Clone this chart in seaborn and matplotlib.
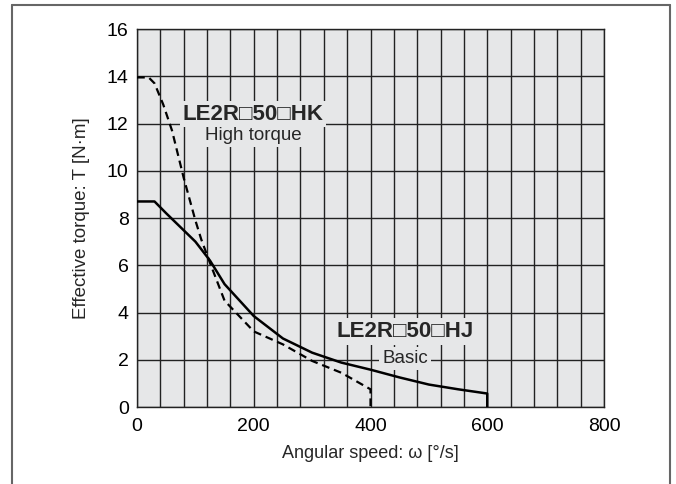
import numpy as np
import pandas as pd
import matplotlib.pyplot as plt
import seaborn as sns
from matplotlib.lines import Line2D

# Basic (HJ) curve
speed_basic = [0, 30, 50, 100, 125, 150, 200, 250, 300, 350, 400, 450, 500, 550, 600, 600]
torque_basic = [8.7, 8.7, 8.2, 7.0, 6.2, 5.2, 3.85, 2.9, 2.3, 1.88, 1.58, 1.25, 0.95, 0.75, 0.57, 0]

# High torque (HK) curve
speed_high = [0, 20, 30, 45, 60, 80, 100, 110, 125, 150, 200, 250, 300, 350, 400, 400]
torque_high = [13.95, 13.95, 13.7, 12.8, 11.7, 9.7, 7.9, 7.1, 6.1, 4.5, 3.2, 2.65, 1.95, 1.45, 0.75, 0]

x_ticks = [0, 200, 400, 600, 800]
y_ticks = [0, 2, 4, 6, 8, 10, 12, 14, 16]

sns.set_style("ticks")
plt.rcParams["font.family"] = ["Liberation Sans", "DejaVu Sans"]

face = "#e6e7e8"
fig = plt.figure(figsize=(6.76, 4.84), dpi=100)
ax = fig.add_axes([137 / 676, 1 - 407 / 484, (604 - 137) / 676, (407 - 29) / 484])
ax.set_facecolor(face)

df_basic = pd.DataFrame({"speed": speed_basic, "torque": torque_basic})
df_high = pd.DataFrame({"speed": speed_high, "torque": torque_high})

sns.lineplot(data=df_basic, x="speed", y="torque", ax=ax, sort=False,
             color="black", linewidth=1.8, estimator=None, zorder=5)
sns.lineplot(data=df_high, x="speed", y="torque", ax=ax, sort=False,
             color="black", linewidth=1.6, estimator=None, zorder=5,
             dashes=False, linestyle=(0, (3.5, 2.2)))

ax.set_xlim(0, 800)
ax.set_ylim(0, 16)
ax.set_xticks(x_ticks)
ax.set_xticks(np.arange(0, 801, 40), minor=True)
ax.set_yticks(y_ticks)
ax.tick_params(which="both", length=0, labelsize=14, colors="black")
ax.tick_params(axis="x", pad=8)
ax.tick_params(axis="y", pad=6)
ax.grid(which="both", axis="x", color="#222222", linewidth=1.0)
ax.grid(which="major", axis="y", color="#222222", linewidth=1.0)
ax.set_axisbelow(True)
for s in ax.spines.values():
    s.set_color("#222222")
    s.set_linewidth(1.0)

ax.set_xlabel("Angular speed: ω [°/s]", fontsize=13, labelpad=7)
ax.set_ylabel("Effective torque: T [N·m]", fontsize=13.5, labelpad=12)

box = dict(facecolor=face, edgecolor="none", pad=2)
ax.text(199, 12.4, "LE2R\u25a150\u25a1HK", fontsize=16, fontweight="bold",
        ha="center", va="center", bbox=box, zorder=6)
ax.text(199, 11.5, "High torque", fontsize=13.5, ha="center", va="center",
        bbox=box, zorder=6)
ax.text(459, 3.2, "LE2R\u25a150\u25a1HJ", fontsize=16, fontweight="bold",
        ha="center", va="center", bbox=box, zorder=6)
ax.text(459, 2.05, "Basic", fontsize=13.5, ha="center", va="center",
        bbox=box, zorder=6)

# outer frame
fc = "#666666"
fig.add_artist(Line2D([12 / 676, 12 / 676], [0, 1 - 5 / 484], color=fc, lw=1.5))
fig.add_artist(Line2D([12 / 676, 670 / 676], [1 - 5 / 484, 1 - 5 / 484], color=fc, lw=1.5))
fig.add_artist(Line2D([670 / 676, 670 / 676], [0, 1 - 5 / 484], color=fc, lw=1.5))

fig.savefig("out.png", dpi=100)
